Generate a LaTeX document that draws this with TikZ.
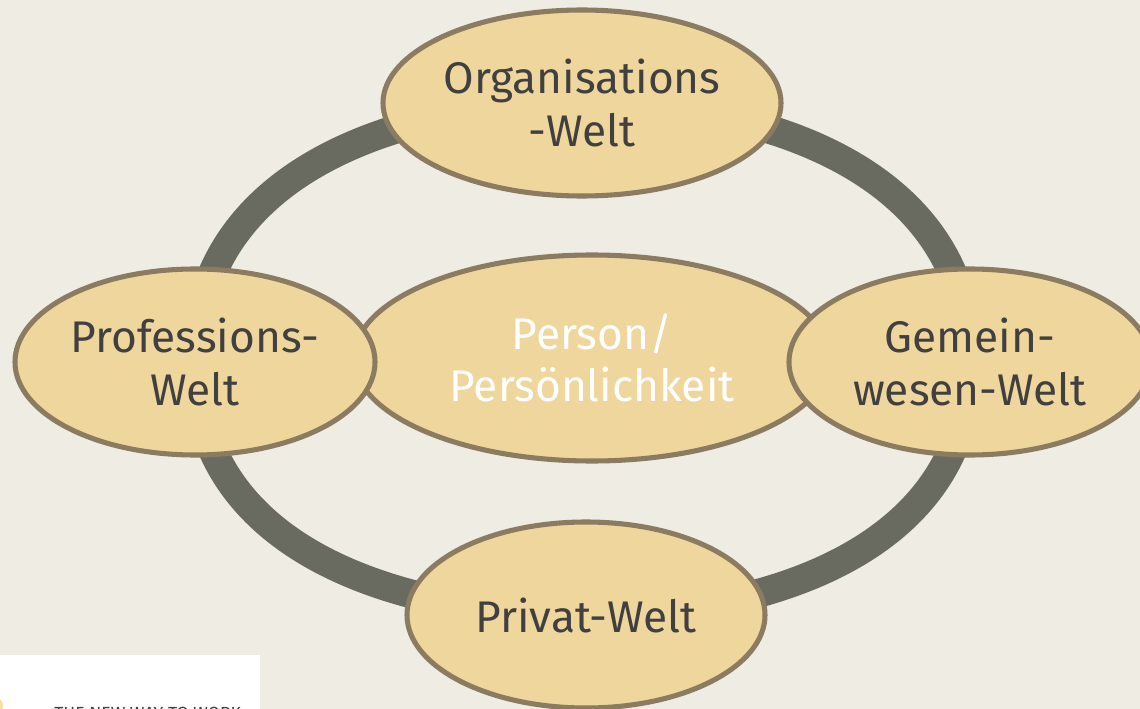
\documentclass[tikz,border=0pt]{standalone}
\usepackage{fontspec}
\setmainfont{Fira Sans}
\usepackage{tikz}
\usetikzlibrary{shapes.geometric, backgrounds}
\definecolor{pagebg}{HTML}{EEECE3}
\definecolor{worldfill}{HTML}{EED69C}
\definecolor{worldline}{HTML}{8B7B60}
\definecolor{ringgrey}{HTML}{6A6B60}
\definecolor{worldtext}{HTML}{404040}
\definecolor{logospot}{HTML}{F8DFA0}

\begin{document}
\begin{tikzpicture}[
	x=0.025cm, y=-0.025cm,
	WorldNode/.style={ellipse, draw=worldline, fill=worldfill, line width=3.6pt,
		inner sep=0pt, text=worldtext, align=center,
		font=\fontsize{31.5}{37}\selectfont},
	RingLine/.style={draw=ringgrey, line width=20.5pt, looseness=1.03}
	]

\useasboundingbox (0,0) rectangle (1140,709);
\clip (0,0) rectangle (1140,709);

\node [WorldNode, text=white, minimum width=476*0.025cm, minimum height=206*0.025cm] (person) at (592,358) {Person/\\Persönlichkeit};
\node [WorldNode, minimum width=398*0.025cm, minimum height=186*0.025cm] (orga) at (582,103) {Organisations\\-Welt};
\node [WorldNode, minimum width=360*0.025cm, minimum height=186*0.025cm] (prof) at (195,362) {Professions-\\Welt};
\node [WorldNode, minimum width=362*0.025cm, minimum height=186*0.025cm] (gemein) at (970,362) {Gemein-\\wesen-Welt};
\node [WorldNode, minimum width=358*0.025cm, minimum height=186*0.025cm] (privat) at (586,615) {Privat-Welt};

\node [anchor=north west, fill=white, minimum width=260*0.025cm, minimum height=60*0.025cm, inner sep=0pt] (logo) at (0,655) {};
\node [anchor=north west, inner sep=0pt, text=worldtext, font=\fontsize{12.5}{14}\selectfont] (logotext) at (54,707) {THE NEW WAY TO WORK};
\fill [logospot] (-6,706) circle [radius=9];

\begin{scope}[on background layer]
\fill [pagebg] (0,0) rectangle (1140,709);
\draw [RingLine] (orga.center) to[out=180, in=90] (prof.center);
\draw [RingLine] (orga.center) to[out=0, in=90] (gemein.center);
\draw [RingLine] (privat.center) to[out=180, in=-90] (prof.center);
\draw [RingLine] (privat.center) to[out=0, in=-90] (gemein.center);
\end{scope}

\end{tikzpicture}
\end{document}
